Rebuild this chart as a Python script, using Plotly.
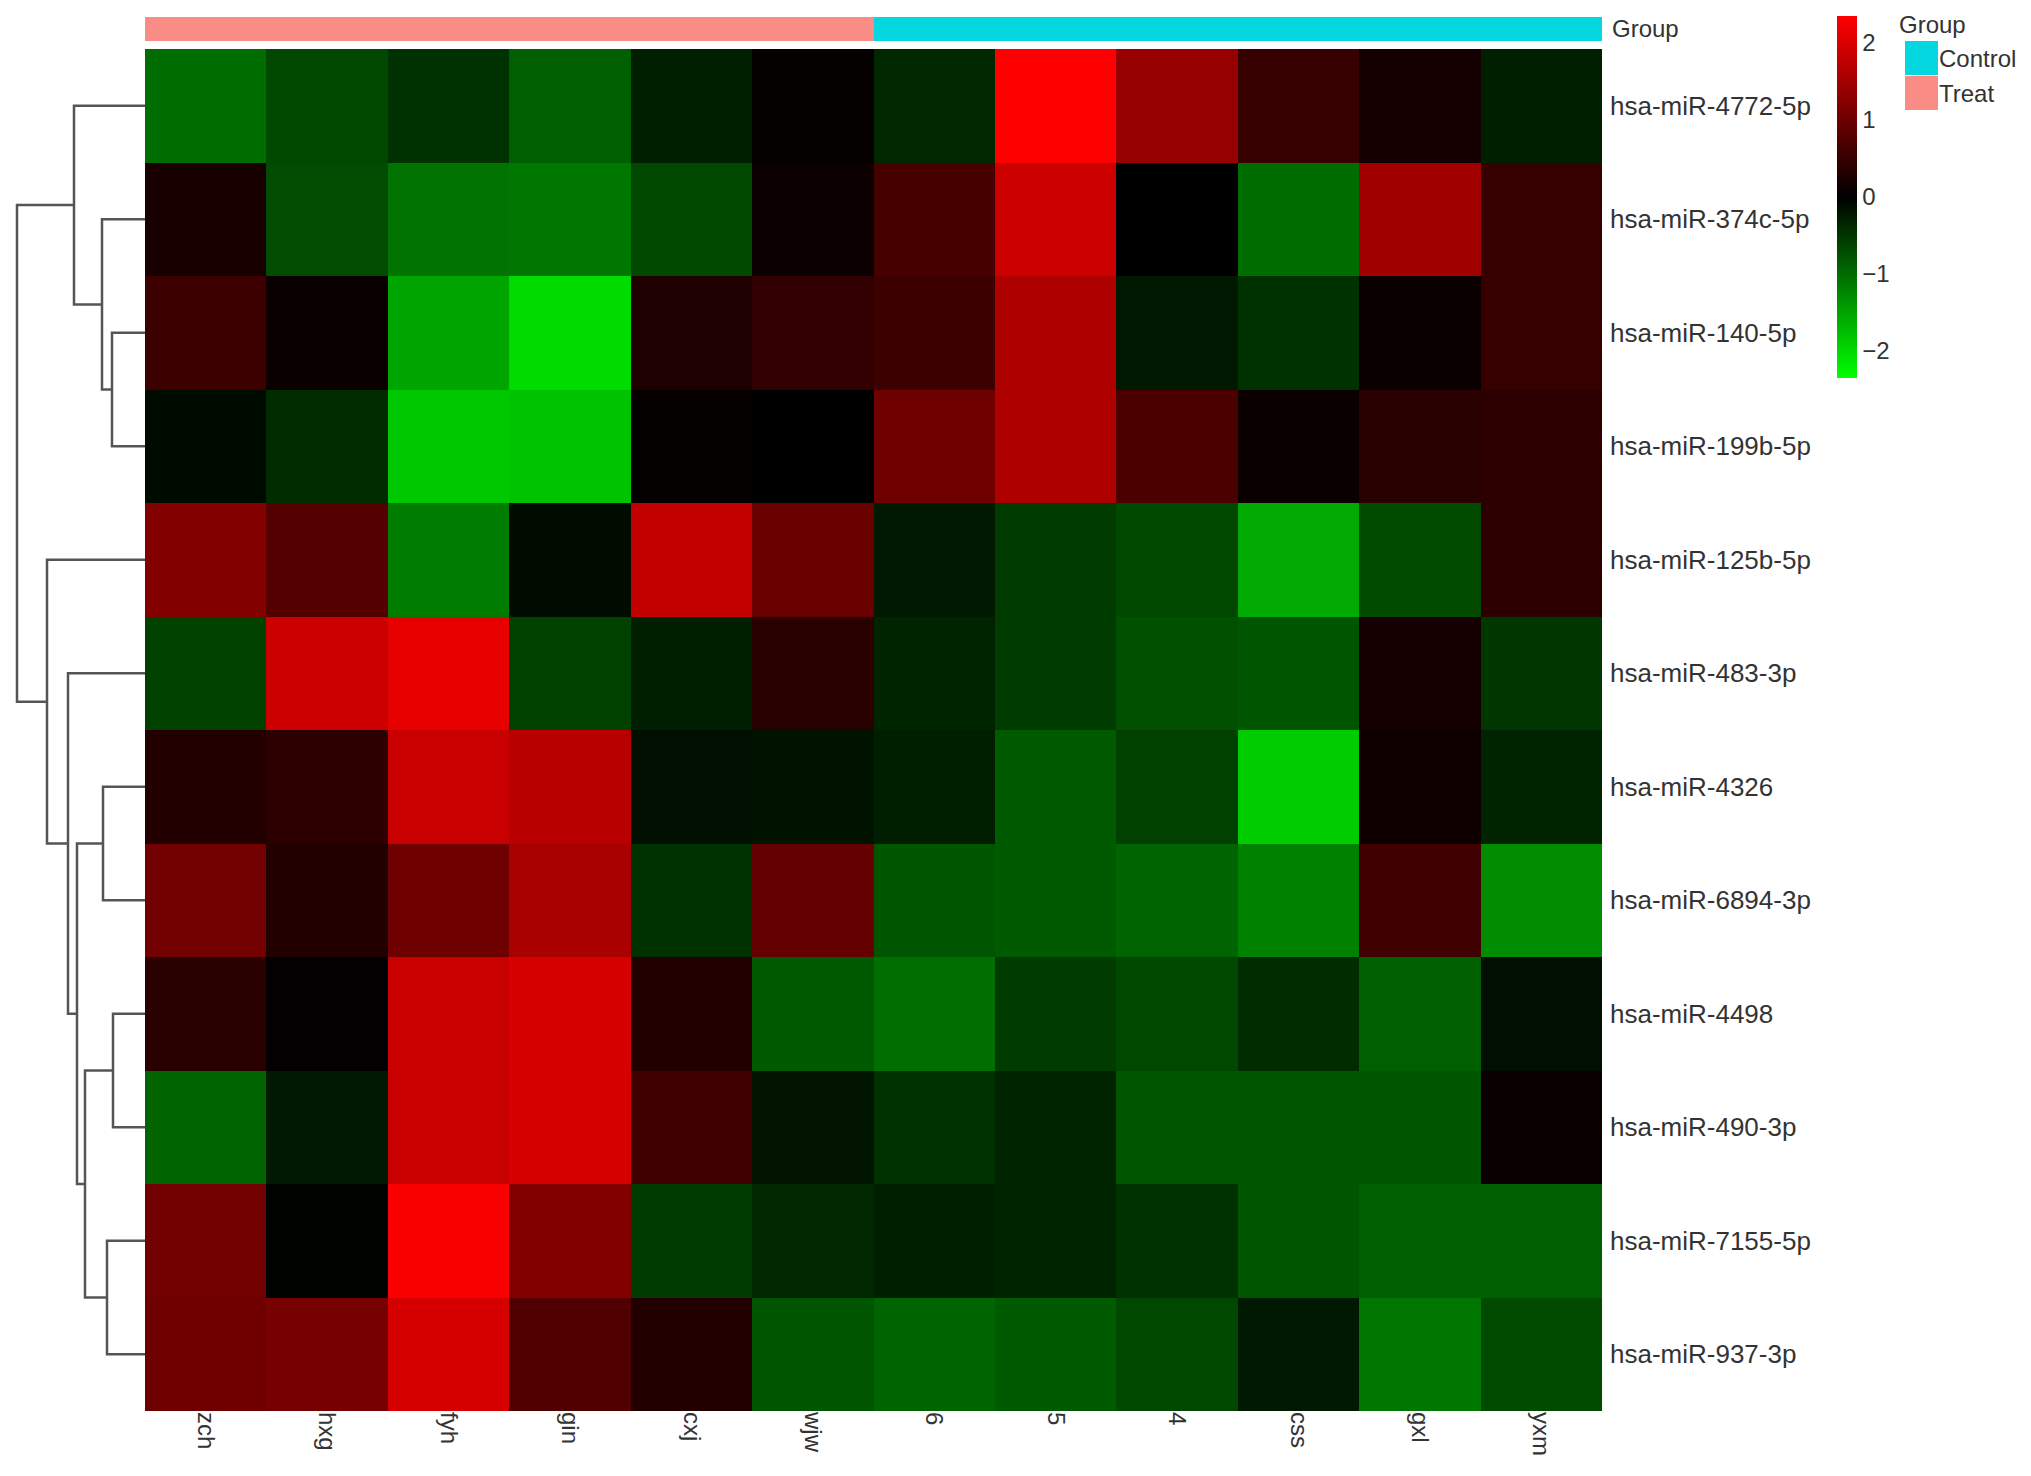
import plotly.graph_objects as go

# samples (columns) and miRNAs (rows), in the clustered display order
samples = ["zch", "hxg", "fyh", "gin", "cxj", "wjw", "6", "5", "4", "css", "gxl", "yxm"]
groups = ["Treat"] * 6 + ["Control"] * 6
mirnas = [
    "hsa-miR-4772-5p", "hsa-miR-374c-5p", "hsa-miR-140-5p", "hsa-miR-199b-5p",
    "hsa-miR-125b-5p", "hsa-miR-483-3p", "hsa-miR-4326", "hsa-miR-6894-3p",
    "hsa-miR-4498", "hsa-miR-490-3p", "hsa-miR-7155-5p", "hsa-miR-937-3p",
]

# scaled expression (z-score per row)
z_4772 = [-1.00, -0.65, -0.45, -0.88, -0.28, 0.05, -0.37, 2.35, 1.38, 0.50, 0.18, -0.28]
z_374c = [0.23, -0.70, -1.06, -1.10, -0.65, 0.11, 0.65, 1.89, 0.00, -1.00, 1.47, 0.50]
z_140 = [0.55, 0.09, -1.52, -2.03, 0.28, 0.46, 0.55, 1.61, -0.23, -0.46, 0.09, 0.50]
z_199b = [-0.10, -0.41, -1.84, -1.80, 0.04, 0.00, 1.01, 1.61, 0.69, 0.09, 0.37, 0.41]
z_125b = [1.20, 0.78, -1.15, -0.11, 1.80, 0.97, -0.23, -0.55, -0.65, -1.57, -0.69, 0.41]
z_483 = [-0.60, 1.89, 2.12, -0.60, -0.28, 0.37, -0.32, -0.55, -0.74, -0.78, 0.18, -0.50]
z_4326 = [0.32, 0.41, 1.84, 1.70, -0.14, -0.17, -0.28, -0.83, -0.60, -1.89, 0.14, -0.32]
z_6894 = [1.06, 0.32, 1.01, 1.56, -0.46, 0.92, -0.78, -0.83, -0.92, -1.20, 0.60, -1.29]
z_4498 = [0.37, 0.02, 1.84, 1.98, 0.32, -0.83, -1.01, -0.55, -0.65, -0.41, -0.88, -0.14]
z_490 = [-0.92, -0.23, 1.84, 1.98, 0.60, -0.18, -0.46, -0.32, -0.78, -0.78, -0.78, 0.09]
z_7155 = [1.06, -0.02, 2.30, 1.20, -0.55, -0.37, -0.28, -0.32, -0.46, -0.78, -0.88, -0.88]
z_937 = [1.01, 1.10, 1.98, 0.74, 0.32, -0.78, -0.92, -0.83, -0.65, -0.23, -1.10, -0.69]
values = [z_4772, z_374c, z_140, z_199b, z_125b, z_483,
          z_4326, z_6894, z_4498, z_490, z_7155, z_937]

# row dendrogram: (child a, child b, height); ids >= 12 are earlier merges
row_merges = [
    (2, 3, 33), (1, 12, 43), (0, 13, 71),
    (8, 9, 32), (10, 11, 38), (6, 7, 42),
    (15, 16, 60), (17, 18, 68), (5, 19, 77),
    (4, 20, 98), (14, 21, 128),
]

# page body has an 8px margin, so the figure is sized to fit inside it
OFF = 8
W, H = 2031 - 2 * OFF, 1476 - 2 * OFF
FONT = "Liberation Sans, Arial, sans-serif"
TXT = "#333333"
TREAT_COL = "#F98C84"
CTRL_COL = "#04D7E0"

def px_x(p):
    return (p - OFF) / W

def px_y(p):
    return 1 - (p - OFF) / H

fig = go.Figure()

# main heatmap
fig.add_trace(go.Heatmap(
    z=values, x=samples, y=list(range(len(mirnas))),
    colorscale=[[0, "#00FF00"], [0.5, "#000000"], [1, "#FF0000"]],
    zmin=-2.35, zmax=2.35,
    xaxis="x", yaxis="y",
    colorbar=dict(
        x=px_x(1837), xanchor="left", y=px_y(197), yanchor="middle",
        len=362 / H, lenmode="fraction", thickness=20, thicknessmode="pixels",
        outlinewidth=0, tickvals=[-2, -1, 0, 1, 2], ticks="",
        tickfont=dict(family=FONT, size=24, color=TXT), ypad=0, xpad=0,
    ),
))

# group annotation bar
group_code = [1 if g == "Treat" else 0 for g in groups]
fig.add_trace(go.Heatmap(
    z=[group_code], x=samples, y=["Group"],
    colorscale=[[0, CTRL_COL], [1, TREAT_COL]], zmin=0, zmax=1,
    showscale=False, xaxis="x2", yaxis="y2", hoverinfo="skip",
))

# dendrogram lines
pos = {i: (float(i), 0.0) for i in range(len(mirnas))}
xs, ys = [], []
nid = len(mirnas)
for a, b, h in row_merges:
    ya, ha = pos[a]
    yb, hb = pos[b]
    xs += [ha, h, h, hb, None]
    ys += [ya, ya, yb, yb, None]
    pos[nid] = ((ya + yb) / 2, h)
    nid += 1
fig.add_trace(go.Scatter(
    x=xs, y=ys, mode="lines", line=dict(color="#555555", width=2.5),
    xaxis="x3", yaxis="y", showlegend=False, hoverinfo="skip",
))

hm_x = [px_x(145), px_x(1602)]
fig.update_layout(
    width=W, height=H,
    margin=dict(l=0, r=0, t=0, b=0),
    paper_bgcolor="white", plot_bgcolor="white",
    showlegend=False,
    font=dict(family=FONT, size=24, color=TXT),
    xaxis=dict(domain=hm_x, anchor="y", tickangle=90, ticks="",
               showgrid=False, zeroline=False, showline=False,
               tickfont=dict(size=24, color=TXT)),
    yaxis=dict(domain=[px_y(1411), px_y(49)], anchor="x", side="right",
               range=[11.5, -0.5], tickvals=list(range(len(mirnas))),
               ticktext=mirnas, ticks="", showgrid=False, zeroline=False,
               ticklabelstandoff=7, tickfont=dict(size=26, color=TXT)),
    xaxis2=dict(domain=hm_x, anchor="y2", matches="x", showticklabels=False,
                showgrid=False, zeroline=False, ticks=""),
    yaxis2=dict(domain=[px_y(41), px_y(17)], anchor="x2", side="right",
                showticklabels=False, showgrid=False, zeroline=False, ticks=""),
    xaxis3=dict(domain=[0, px_x(145)], anchor="y", range=[145 - OFF, 0],
                visible=False),
)

# "Group" label beside the annotation bar
fig.add_annotation(x=px_x(1610), y=px_y(29), xref="paper", yref="paper",
                   text="Group", showarrow=False, xanchor="left",
                   yanchor="middle", font=dict(size=24, color=TXT))

# group legend
fig.add_annotation(x=px_x(1897), y=px_y(25), xref="paper", yref="paper",
                   text="Group", showarrow=False, xanchor="left",
                   yanchor="middle", font=dict(size=24, color=TXT))
legend_rows = [("Control", CTRL_COL, 41, 75), ("Treat", TREAT_COL, 76, 110)]
for lab, col, top, bot in legend_rows:
    fig.add_shape(type="rect", xref="paper", yref="paper",
                  x0=px_x(1905), x1=px_x(1938), y0=px_y(bot), y1=px_y(top),
                  fillcolor=col, line=dict(width=0))
    fig.add_annotation(x=px_x(1937), y=px_y((top + bot) / 2), xref="paper",
                       yref="paper", text=lab, showarrow=False, xanchor="left",
                       yanchor="middle", font=dict(size=24, color=TXT))

fig.write_html("out.html")
